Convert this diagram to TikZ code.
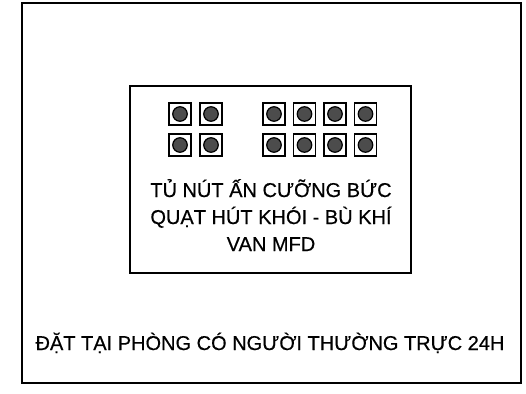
\documentclass[tikz,border=0pt]{standalone}
\usepackage{fontspec}
\setmainfont{Liberation Sans}[FakeBold=0.5]
\begin{document}
\begin{tikzpicture}[x=1pt,y=-1pt,
  frame/.style={draw=black,line width=2.2pt},
  btn/.style={draw=black,line width=1.8pt,minimum size=22pt,inner sep=0pt,fill=white},
  knob/.style={circle,draw=black,line width=1.2pt,fill=black!70,minimum size=14.5pt,inner sep=0pt},
  lbl/.style={font=\fontsize{20}{26}\selectfont,align=center,inner sep=0pt}]
\useasboundingbox (0,0) rectangle (526,393);
\node[frame,minimum width=499pt,minimum height=380pt,inner sep=0pt] (outer) at (271.5,193) {};
\node[frame,minimum width=281pt,minimum height=187pt,inner sep=0pt] (panel) at (270.5,179.5) {};
\foreach \c/\x in {1/180,2/211,3/274,4/304.5,5/335,6/365.5}{
  \foreach \r/\y in {1/114,2/145}{
    \node[btn] (b\c\r) at (\x,\y) {};
    \node[knob] (k\c\r) at (b\c\r) {};
  }
}
\node[lbl,anchor=base] (t1) at (271,197) {TỦ NÚT ẤN CƯỠNG BỨC};
\node[lbl,anchor=base] (t2) at (271,224) {QUẠT HÚT KHÓI - BÙ KHÍ};
\node[lbl,anchor=base] (t3) at (271,251) {VAN MFD};
\node[lbl,anchor=base] (t4) at (270,350) {ĐẶT TẠI PHÒNG CÓ NGƯỜI THƯỜNG TRỰC 24H};
\end{tikzpicture}
\end{document}
